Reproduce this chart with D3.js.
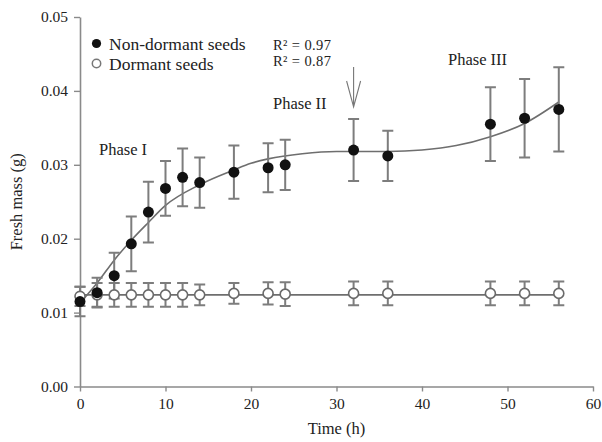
<!DOCTYPE html>
<html>
<head>
<meta charset="utf-8">
<script src="https://cdn.jsdelivr.net/npm/d3@7"></script>
<style>
  body { margin: 0; background: #fff; }
  svg text { font-family: 'Liberation Serif', serif; fill: #222; }
</style>
</head>
<body>
<div id="graph"></div>
<script>
// sampling times (h)
var time = [0, 2, 4, 6, 8, 10, 12, 14, 18, 22, 24, 32, 36, 48, 52, 56]

// non-dormant seeds, mean fresh mass and error
var nonDormant    = [0.0115, 0.0127, 0.0150, 0.0193, 0.0236, 0.0268, 0.0283, 0.0276, 0.0290, 0.0296, 0.0300, 0.0320, 0.0312, 0.0355, 0.0363, 0.0375]
var nonDormantErr = [0.0020, 0.0020, 0.0031, 0.0037, 0.0041, 0.0037, 0.0039, 0.0034, 0.0036, 0.0033, 0.0034, 0.0042, 0.0034, 0.0050, 0.0053, 0.0057]

// dormant seeds
var dormant    = [0.0122, 0.0124, 0.0124, 0.0124, 0.0124, 0.0124, 0.0124, 0.0124, 0.0126, 0.0126, 0.0125, 0.0126, 0.0126, 0.0126, 0.0126, 0.0126]
var dormantErr = [0.0013, 0.0016, 0.0016, 0.0016, 0.0016, 0.0016, 0.0016, 0.0014, 0.0014, 0.0015, 0.0016, 0.0016, 0.0016, 0.0016, 0.0016, 0.0016]

// fitted curves
var fitTime       = [0, 2, 4, 6, 8, 10, 14, 18, 20, 22, 26, 30, 36, 40, 44, 48, 52, 56]
var fitNonDormant = [0.0113, 0.0140, 0.0171, 0.0198, 0.0222, 0.0245, 0.0273, 0.0293, 0.0302, 0.0308, 0.0315, 0.0318, 0.0318, 0.0320, 0.0326, 0.0338, 0.0356, 0.0385]
var fitDormantTime = [0, 56]
var fitDormant     = [0.0124, 0.0124]

var xTicks = [0, 10, 20, 30, 40, 50, 60]
var yTicks = [0, 0.01, 0.02, 0.03, 0.04, 0.05]

var legendLabels = ['Non-dormant seeds', 'Dormant seeds']
var rSquared = ['0.97', '0.87']
var arrowTime = 32

var W = 602, H = 442
var margin = {top: 17, left: 80, right: 9, bottom: 55.5}

var svg = d3.select('#graph').append('svg')
  .attr('width', W).attr('height', H)

var x = d3.scaleLinear().domain([0, 60]).range([margin.left, W - margin.right])
var y = d3.scaleLinear().domain([0, 0.05]).range([H - margin.bottom, margin.top])

var axisColor = '#8a8a8a'
var barColor = '#7d7d7d'

// axes
var xAxis = svg.append('g')
  .attr('transform', 'translate(0,' + y(0) + ')')
  .call(d3.axisBottom(x).tickValues(xTicks).tickFormat(d3.format('d')).tickSize(5).tickSizeOuter(0).tickPadding(6))
var yAxis = svg.append('g')
  .attr('transform', 'translate(' + x(0) + ',0)')
  .call(d3.axisLeft(y).tickValues(yTicks).tickFormat(d3.format('.2f')).tickSize(6).tickSizeOuter(0).tickPadding(6))

;[xAxis, yAxis].forEach(function(a){
  a.select('.domain').attr('stroke', axisColor).attr('stroke-width', 1.6)
  a.selectAll('.tick line').attr('stroke', axisColor).attr('stroke-width', 1.4)
  a.selectAll('.tick text').attr('font-size', 15.5).attr('font-family', 'Liberation Serif, serif').attr('fill', '#222')
})

svg.append('text')
  .attr('x', (x(0) + x(60))/2).attr('y', 434)
  .attr('text-anchor', 'middle').attr('font-size', 16.5)
  .text('Time (h)')

svg.append('text')
  .attr('transform', 'translate(22,' + (y(0) + y(0.05))/2 + ') rotate(-90)')
  .attr('text-anchor', 'middle').attr('font-size', 16.5)
  .text('Fresh mass (g)')

// fitted lines
var line = d3.line().curve(d3.curveMonotoneX)
svg.append('path')
  .attr('d', line(fitTime.map(function(t, i){ return [x(t), y(fitNonDormant[i])] })))
  .attr('fill', 'none').attr('stroke', '#6e6e6e').attr('stroke-width', 1.6)
svg.append('path')
  .attr('d', line(fitDormantTime.map(function(t, i){ return [x(t), y(fitDormant[i])] })))
  .attr('fill', 'none').attr('stroke', '#6e6e6e').attr('stroke-width', 1.6)

// error bars
function errorBars(vals, errs){
  var g = svg.append('g').attr('stroke', barColor).attr('stroke-width', 2).attr('fill', 'none')
  time.forEach(function(t, i){
    var cx = x(t), y0 = y(vals[i] - errs[i]), y1 = y(vals[i] + errs[i])
    g.append('path').attr('d', 'M' + cx + ',' + y0 + 'V' + y1 +
      'M' + (cx - 5.5) + ',' + y0 + 'H' + (cx + 5.5) +
      'M' + (cx - 5.5) + ',' + y1 + 'H' + (cx + 5.5))
  })
}
errorBars(dormant, dormantErr)
errorBars(nonDormant, nonDormantErr)

// points
svg.append('g').selectAll('circle').data(time).enter().append('circle')
  .attr('cx', function(d){ return x(d) })
  .attr('cy', function(d, i){ return y(dormant[i]) })
  .attr('r', 5)
  .attr('fill', '#fff').attr('stroke', '#6a6a6a').attr('stroke-width', 1.6)

svg.append('g').selectAll('circle').data(time).enter().append('circle')
  .attr('cx', function(d){ return x(d) })
  .attr('cy', function(d, i){ return y(nonDormant[i]) })
  .attr('r', 5.5)
  .attr('fill', '#111')

// legend
var leg = svg.append('g')
leg.append('circle').attr('cx', 96.5).attr('cy', 43.5).attr('r', 4.6).attr('fill', '#111')
leg.append('circle').attr('cx', 96.5).attr('cy', 63.5).attr('r', 4.2)
  .attr('fill', '#fff').attr('stroke', '#777').attr('stroke-width', 1.5)
legendLabels.forEach(function(l, i){
  leg.append('text').attr('x', 109).attr('y', 49.5 + i*20).attr('font-size', 17.5).text(l)
})

// R² annotation, two tight lines
rSquared.forEach(function(v, i){
  svg.append('text').attr('x', 273).attr('y', 49.5 + i*16.5).attr('font-size', 14.5)
    .attr('letter-spacing', 0.4)
    .text('R² = ' + v)
})

svg.append('text').attr('x', 273).attr('y', 109).attr('font-size', 16.5).text('Phase II')
svg.append('text').attr('x', 448).attr('y', 64.5).attr('font-size', 16.5).text('Phase III')
svg.append('text').attr('x', 99).attr('y', 155).attr('font-size', 16.5).text('Phase I')

// arrow marking the end of phase II
var ax = x(arrowTime)
svg.append('path')
  .attr('d', 'M' + ax + ',67V107M' + (ax - 7) + ',81L' + ax + ',107L' + (ax + 7) + ',81')
  .attr('fill', 'none').attr('stroke', '#777').attr('stroke-width', 1.1)
</script>
</body>
</html>
